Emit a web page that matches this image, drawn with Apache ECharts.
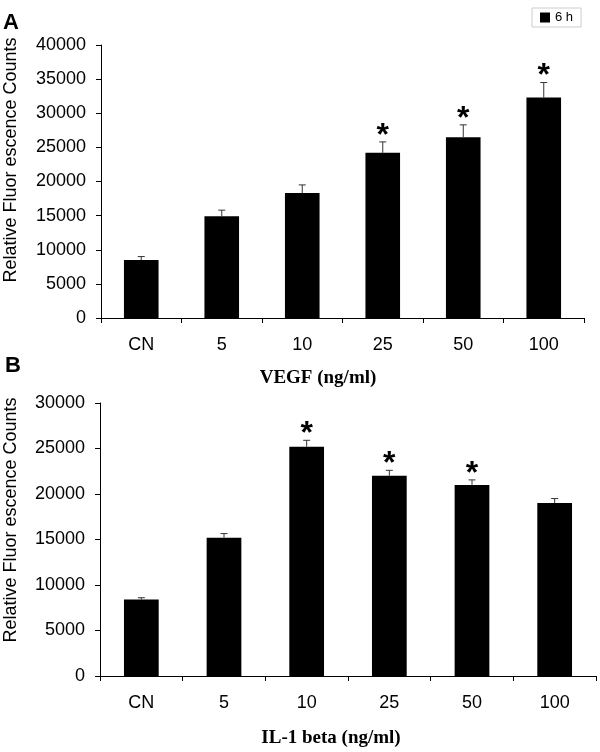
<!DOCTYPE html>
<html>
<head>
<meta charset="utf-8">
<script src="https://cdn.jsdelivr.net/npm/echarts@6/dist/echarts.min.js"></script>
<style>
html,body{margin:0;padding:0;background:#fff;}
#chart{width:600px;height:752px;}
</style>
</head>
<body>
<div id="chart"></div>
<script>
// ---- data ----
var categories = ['CN', '5', '10', '25', '50', '100'];
var vegfMeans = [8500, 14900, 18300, 24200, 26500, 32300];
var vegfErr   = [500, 900, 1200, 1600, 1800, 2200];
var vegfSig   = [0, 0, 0, 1, 1, 1];
var ilMeans   = [8400, 15200, 25200, 22000, 21000, 19000];
var ilErr     = [200, 450, 700, 600, 550, 500];
var ilSig     = [0, 0, 1, 1, 1, 0];
var vegfTicks = [0, 40000, 5000];   // min, max, interval
var ilTicks   = [0, 30000, 5000];

var SANS = "'Liberation Sans', Arial, sans-serif";
var SERIF = "'Liberation Serif', 'Times New Roman', serif";

function errData(means, errs, sig) {
  return means.map(function (m, i) { return [i, m, errs[i], sig[i]]; });
}

function renderErr(params, api) {
  var i = api.value(0), m = api.value(1), e = api.value(2), s = api.value(3);
  var p0 = api.coord([i, m]);
  var p1 = api.coord([i, m + e]);
  var style = { stroke: '#333', lineWidth: 1 };
  var children = [
    { type: 'line', shape: { x1: p0[0], y1: p0[1], x2: p1[0], y2: p1[1] }, style: style },
    { type: 'line', shape: { x1: p1[0] - 3.5, y1: p1[1], x2: p1[0] + 3.5, y2: p1[1] }, style: style }
  ];
  if (s) {
    children.push({
      type: 'text',
      style: {
        text: '*', x: p0[0], y: p1[1] - 6,
        align: 'center', verticalAlign: 'middle',
        font: 'bold 32px ' + SANS, fill: '#000'
      }
    });
  }
  return { type: 'group', children: children };
}

function xAxisCfg(gi) {
  return {
    type: 'category', gridIndex: gi, data: categories,
    axisLine: { lineStyle: { color: '#000', width: 1 } },
    axisTick: { show: true, length: 5, lineStyle: { color: '#000' } },
    axisLabel: { color: '#000', fontSize: 18, fontFamily: SANS, margin: 18 }
  };
}
function yAxisCfg(gi, t) {
  return {
    type: 'value', gridIndex: gi, min: t[0], max: t[1], interval: t[2],
    axisLine: { show: true, lineStyle: { color: '#000', width: 1 } },
    axisTick: { show: true, length: 5, lineStyle: { color: '#000' } },
    splitLine: { show: false },
    axisLabel: { color: '#000', fontSize: 18, fontFamily: SANS, margin: 15,
      formatter: function (v) { return String(v); } }
  };
}

var chart = echarts.init(document.getElementById('chart'), null, { renderer: 'canvas' });
chart.setOption({
  animation: false,
  backgroundColor: '#fff',
  grid: [
    { left: 101, right: 16, top: 45, bottom: 434 },
    { left: 100, right: 4, top: 403, bottom: 76 }
  ],
  legend: {
    data: ['6 h'], left: 532, top: 8,
    icon: 'rect', itemWidth: 10, itemHeight: 10,
    padding: [3, 8], borderColor: '#ccc', borderWidth: 1,
    textStyle: { fontSize: 13, fontFamily: SANS, color: '#000' }
  },
  xAxis: [xAxisCfg(0), xAxisCfg(1)],
  yAxis: [yAxisCfg(0, vegfTicks), yAxisCfg(1, ilTicks)],
  graphic: [
    { type: 'text', left: 3, top: 12, style: { text: 'A', font: 'bold 22px ' + SANS, fill: '#000' } },
    { type: 'text', left: 5, top: 355, style: { text: 'B', font: 'bold 22px ' + SANS, fill: '#000' } },
    { type: 'text', x: 318, y: 378, style: { text: 'VEGF (ng/ml)', font: 'bold 19px ' + SERIF, fill: '#000', align: 'center', verticalAlign: 'middle' } },
    { type: 'text', x: 331, y: 738, style: { text: 'IL-1 beta (ng/ml)', font: 'bold 19px ' + SERIF, fill: '#000', align: 'center', verticalAlign: 'middle' } },
    { type: 'text', x: 11, y: 160, rotation: Math.PI / 2, style: { text: 'Relative Fluor escence Counts', font: '18px ' + SANS, fill: '#000', align: 'center', verticalAlign: 'middle' } },
    { type: 'text', x: 11, y: 520, rotation: Math.PI / 2, style: { text: 'Relative Fluor escence Counts', font: '18px ' + SANS, fill: '#000', align: 'center', verticalAlign: 'middle' } }
  ],
  series: [
    { name: '6 h', type: 'bar', xAxisIndex: 0, yAxisIndex: 0, data: vegfMeans, barWidth: '43%', itemStyle: { color: '#000' } },
    { name: '6 h', type: 'bar', xAxisIndex: 1, yAxisIndex: 1, data: ilMeans, barWidth: '42%', itemStyle: { color: '#000' } },
    { type: 'custom', xAxisIndex: 0, yAxisIndex: 0, data: errData(vegfMeans, vegfErr, vegfSig), renderItem: renderErr, z: 5 },
    { type: 'custom', xAxisIndex: 1, yAxisIndex: 1, data: errData(ilMeans, ilErr, ilSig), renderItem: renderErr, z: 5 }
  ]
});
</script>
</body>
</html>
